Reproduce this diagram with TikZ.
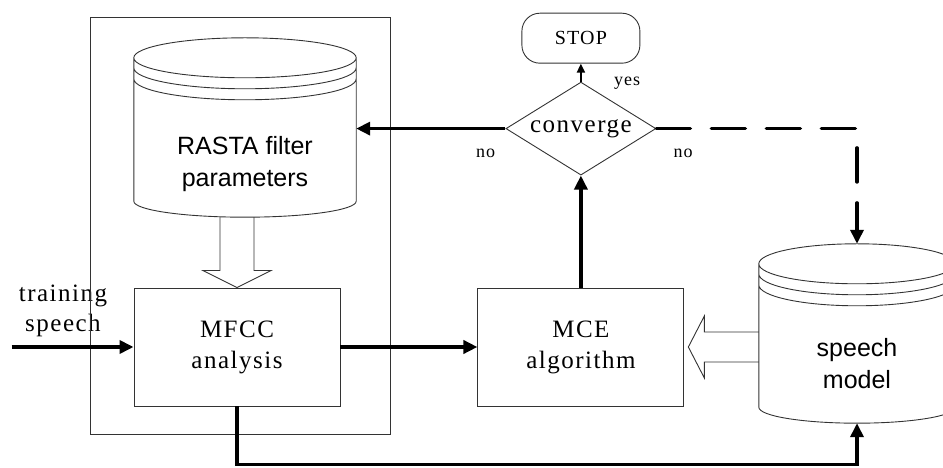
\documentclass[tikz,border=0pt]{standalone}
\usepackage{fontspec}
\setmainfont{Liberation Serif}[LetterSpace=6]
\newfontfamily\drumfont{Liberation Sans}
\usetikzlibrary{positioning,shapes.geometric,arrows.meta,calc}

\tikzset{
  thinline/.style={draw=black!80, line width=0.9pt},
  proc/.style={thinline, minimum width=206pt, minimum height=118pt, inner sep=0pt,
    align=center, font=\fontsize{25}{31}\selectfont},
  test/.style={thinline, diamond, aspect=1.6, minimum width=150pt, minimum height=93pt,
    inner sep=0pt, font=\fontsize{25}{30}\selectfont},
  term/.style={thinline, rounded corners=18pt, minimum width=118pt, minimum height=50pt,
    inner sep=0pt, font=\fontsize{20}{24}\selectfont},
  store/.style={inner sep=0pt, align=center, font=\drumfont\fontsize{25}{32}\selectfont},
  tag/.style={inner sep=0pt, font=\fontsize{18}{20}\selectfont},
  flow/.style={line width=3.5pt, -{Triangle[length=14pt,width=13pt]}},
  hollow/.style={thinline, line join=miter},
}

% drum outline round a store node: #1 node, #2 height of the lid above it
\newcommand{\drawdrum}[2]{%
  \draw[thinline] let \p1=(#1.north west), \p2=(#1.south east),
      \n1={(\x2-\x1)/2}, \n2={\y1+#2} in
    (\x1,\n2-20) -- (\x1,\y2+16)
      arc[start angle=180, end angle=360, x radius=\n1, y radius=16pt] -- (\x2,\n2-20)
    (\x1+\n1,\n2-20) ellipse[x radius=\n1, y radius=20pt]
    (\x1,\n2-30) arc[start angle=180, end angle=360, x radius=\n1, y radius=21pt]
    (\x1,\n2-41) arc[start angle=180, end angle=360, x radius=\n1, y radius=21pt];
  \coordinate (#1-top) at ($(#1.north)+(0,#2)$);
}

\begin{document}
\begin{tikzpicture}[x=1pt,y=1pt]
  \useasboundingbox (0,0) rectangle (943,468);

  % Define nodes
  \node[proc]                      (mfcc) at (237,121) {MFCC\\analysis};
  \node[proc, right=137pt of mfcc] (mce)  {MCE\\algorithm};
  \node[test, above=112pt of mce]  (conv) {converge};
  \node[term, above=18pt of conv]  (stop) {STOP};
  \node[store, minimum width=222pt, minimum height=106pt] (rasta)  at (245,304) {RASTA filter\\parameters};
  \node[store, minimum width=196pt, minimum height=118pt] (speech) at (857,104) {speech\\model};
  \node[tag, font=\fontsize{25}{30}\selectfont, align=center] (train) at (63,157) {training\\speech};
  \coordinate[left=122pt of mfcc.west] (src);

  % Drums and the front-end frame
  \drawdrum{rasta}{73}
  \drawdrum{speech}{61}
  \draw[thinline] (90,34) rectangle (390,451);

  % Answers of the test
  \node[tag, anchor=base east] (no-left)  at ($(conv.west)+(-10,-29)$) {no};
  \node[tag, anchor=base west] (no-right) at ($(conv.east)+(17,-29)$) {no};
  \node[tag, anchor=base west] (yes)      at ($(conv.north)+(33,-4)$) {yes};

  % Connect the nodes
  \draw[flow] (src) -- (mfcc.west);
  \draw[flow] (mfcc.east) -- (mce.west);
  \draw[flow] (mce.north) -- (conv.south);
  \draw[line width=2pt, -{Triangle[length=9pt,width=8pt]}] (conv.north) -- (stop.south);
  \draw[flow] (conv.west) -- (conv.west -| rasta.east);
  \draw[flow, dash pattern=on 34pt off 21pt, line cap=round] (conv.east) -| (speech-top);
  \draw[flow] (mfcc.south) -- ++(0,-58) -| (speech.south);

  % Wide outline arrows
  \draw[hollow] ($(mfcc.north |- rasta.south)+(-17,0)$) -- ($(mfcc.north)+(-17,17)$)
    -- ($(mfcc.north)+(-34,17)$) -- (mfcc.north) -- ($(mfcc.north)+(34,17)$)
    -- ($(mfcc.north)+(17,17)$) -- ($(mfcc.north |- rasta.south)+(17,0)$);
  \draw[hollow] ($(speech.west |- mce.east)+(0,15)$) -- ($(mce.east)+(20,15)$)
    -- ($(mce.east)+(20,31)$) -- ($(mce.east)+(4,0)$) -- ($(mce.east)+(20,-31)$)
    -- ($(mce.east)+(20,-15)$) -- ($(speech.west |- mce.east)+(0,-15)$);
\end{tikzpicture}
\end{document}
